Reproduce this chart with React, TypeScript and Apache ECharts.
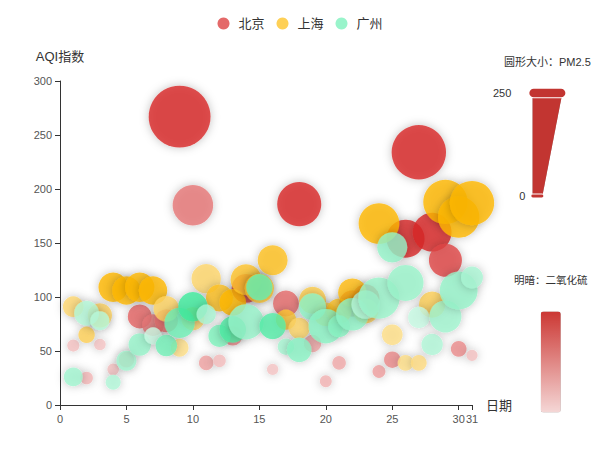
import React, { useEffect, useRef } from "react";
import * as echarts from "echarts";

// [day, AQI, PM2.5, PM10, CO, NO2, SO2, level]
const dataBJ: (number | string)[][] = [
  [1, 55, 9, 56, 0.46, 18, 6, "良"],
  [2, 25, 11, 21, 0.65, 34, 9, "优"],
  [3, 56, 7, 63, 0.3, 14, 5, "良"],
  [4, 33, 7, 29, 0.33, 16, 6, "优"],
  [5, 42, 24, 44, 0.76, 40, 16, "优"],
  [6, 82, 58, 90, 1.77, 68, 33, "良"],
  [7, 74, 49, 77, 1.46, 48, 27, "良"],
  [8, 78, 55, 80, 1.29, 59, 29, "良"],
  [9, 267, 216, 280, 4.8, 108, 64, "重度污染"],
  [10, 185, 127, 216, 2.52, 61, 27, "中度污染"],
  [11, 39, 19, 38, 0.57, 31, 15, "优"],
  [12, 41, 11, 40, 0.43, 21, 7, "优"],
  [13, 64, 38, 74, 1.04, 46, 22, "良"],
  [14, 108, 79, 120, 1.7, 75, 41, "轻度污染"],
  [15, 108, 63, 116, 1.48, 44, 26, "轻度污染"],
  [16, 33, 6, 29, 0.34, 13, 5, "优"],
  [17, 94, 66, 110, 1.54, 62, 31, "良"],
  [18, 186, 142, 192, 3.88, 93, 79, "中度污染"],
  [19, 57, 31, 54, 0.96, 32, 14, "良"],
  [20, 22, 8, 17, 0.48, 23, 10, "优"],
  [21, 39, 15, 36, 0.61, 29, 13, "优"],
  [22, 94, 69, 114, 2.08, 73, 39, "良"],
  [23, 99, 73, 110, 2.43, 76, 48, "良"],
  [24, 31, 12, 30, 0.5, 32, 16, "优"],
  [25, 42, 27, 43, 1, 53, 22, "优"],
  [26, 154, 117, 157, 3.05, 92, 58, "中度污染"],
  [27, 234, 185, 230, 4.09, 123, 69, "重度污染"],
  [28, 160, 120, 186, 2.77, 91, 50, "中度污染"],
  [29, 134, 96, 165, 2.76, 83, 41, "轻度污染"],
  [30, 52, 24, 60, 1.03, 50, 21, "良"],
  [31, 46, 5, 49, 0.28, 10, 6, "优"],
];

const dataSH: (number | string)[][] = [
  [1, 91, 45, 125, 0.82, 34, 23, "良"],
  [2, 65, 27, 78, 0.86, 45, 29, "良"],
  [3, 83, 60, 84, 1.09, 73, 27, "良"],
  [4, 109, 81, 121, 1.28, 68, 51, "轻度污染"],
  [5, 106, 77, 114, 1.07, 55, 51, "轻度污染"],
  [6, 109, 81, 121, 1.28, 68, 51, "轻度污染"],
  [7, 106, 77, 114, 1.07, 55, 51, "轻度污染"],
  [8, 89, 65, 78, 0.86, 51, 26, "良"],
  [9, 53, 33, 47, 0.64, 50, 17, "良"],
  [10, 80, 55, 80, 1.01, 75, 24, "良"],
  [11, 117, 81, 124, 1.03, 45, 24, "轻度污染"],
  [12, 99, 71, 142, 1.1, 62, 42, "良"],
  [13, 95, 69, 130, 1.28, 74, 50, "良"],
  [14, 116, 87, 131, 1.47, 84, 40, "轻度污染"],
  [15, 108, 80, 121, 1.3, 85, 37, "轻度污染"],
  [16, 134, 83, 167, 1.16, 57, 43, "轻度污染"],
  [17, 79, 43, 107, 1.05, 59, 37, "良"],
  [18, 71, 46, 89, 0.86, 64, 25, "良"],
  [19, 97, 71, 113, 1.17, 88, 31, "良"],
  [20, 84, 57, 91, 0.85, 55, 31, "良"],
  [21, 87, 63, 101, 0.9, 56, 41, "良"],
  [22, 104, 77, 119, 1.09, 73, 48, "轻度污染"],
  [23, 87, 62, 100, 1, 72, 28, "良"],
  [24, 168, 128, 172, 1.49, 97, 56, "中度污染"],
  [25, 65, 45, 51, 0.74, 39, 17, "良"],
  [26, 39, 24, 38, 0.61, 47, 17, "优"],
  [27, 39, 24, 39, 0.59, 50, 19, "优"],
  [28, 93, 68, 96, 1.05, 79, 29, "良"],
  [29, 188, 143, 197, 1.66, 99, 51, "中度污染"],
  [30, 174, 131, 174, 1.55, 108, 50, "中度污染"],
  [31, 187, 143, 201, 1.39, 89, 53, "中度污染"],
];

const dataGZ: (number | string)[][] = [
  [1, 26, 37, 27, 1.163, 27, 13, "优"],
  [2, 85, 62, 71, 1.195, 60, 8, "良"],
  [3, 78, 38, 74, 1.363, 37, 7, "良"],
  [4, 21, 21, 36, 0.634, 40, 9, "优"],
  [5, 41, 42, 46, 0.915, 81, 13, "优"],
  [6, 56, 52, 69, 1.067, 92, 16, "良"],
  [7, 64, 30, 28, 0.924, 51, 2, "良"],
  [8, 55, 48, 74, 1.236, 75, 26, "良"],
  [9, 76, 85, 113, 1.237, 114, 27, "良"],
  [10, 91, 81, 104, 1.041, 56, 40, "良"],
  [11, 84, 39, 60, 0.964, 25, 11, "良"],
  [12, 64, 51, 101, 0.862, 58, 23, "良"],
  [13, 70, 69, 120, 1.198, 65, 36, "良"],
  [14, 77, 105, 178, 2.549, 64, 16, "良"],
  [15, 109, 68, 87, 0.996, 74, 29, "轻度污染"],
  [16, 73, 68, 97, 0.905, 51, 34, "良"],
  [17, 54, 27, 47, 0.592, 53, 12, "良"],
  [18, 51, 61, 97, 0.811, 65, 19, "良"],
  [19, 91, 71, 121, 1.374, 43, 18, "良"],
  [20, 73, 102, 182, 2.787, 44, 19, "良"],
  [21, 73, 50, 76, 0.717, 31, 20, "良"],
  [22, 84, 94, 140, 2.238, 68, 18, "良"],
  [23, 93, 77, 104, 1.165, 53, 7, "良"],
  [24, 99, 130, 227, 3.97, 55, 15, "良"],
  [25, 146, 84, 139, 1.094, 40, 17, "轻度污染"],
  [26, 113, 108, 137, 1.481, 48, 15, "轻度污染"],
  [27, 81, 48, 62, 1.619, 26, 3, "良"],
  [28, 56, 48, 68, 1.336, 37, 9, "良"],
  [29, 82, 92, 174, 3.29, 0, 13, "良"],
  [30, 106, 116, 188, 3.628, 101, 16, "轻度污染"],
  [31, 118, 50, 0, 1.383, 76, 11, "轻度污染"],
];

const seriesNames = ["北京", "上海", "广州"];
const seriesColors = ["#dd4444", "#fec42c", "#80F1BE"];

export default function App() {
  const ref = useRef<HTMLDivElement>(null);
  useEffect(() => {
    if (!ref.current) return;
    document.body.style.margin = "0";
    const chart = echarts.init(ref.current, null, { renderer: "svg" });
    const itemStyle = {
      opacity: 0.8,
      shadowBlur: 10,
      shadowOffsetX: 0,
      shadowOffsetY: 0,
      shadowColor: "rgba(0,0,0,0.3)",
    };
    const datas = [dataBJ, dataSH, dataGZ];
    const axisCommon = {
      axisLine: { lineStyle: { color: "#333" } },
      axisTick: { lineStyle: { color: "#333" } },
      axisLabel: { fontSize: 11, color: "#555" },
      nameTextStyle: { fontSize: 13, color: "#333" },
      splitLine: { show: false },
    };
    chart.setOption({
      animation: false,
      color: seriesColors,
      textStyle: { fontFamily: "'Liberation Sans', 'Noto Sans CJK SC', sans-serif" },
      legend: {
        top: 12,
        data: seriesNames,
        itemWidth: 20,
        itemHeight: 12,
        itemGap: 12,
        textStyle: { fontSize: 13, color: "#333" },
      },
      grid: { left: "10%", right: 128, top: "18%", bottom: "10%" },
      xAxis: {
        type: "value",
        name: "日期",
        nameGap: 14,
        max: 31,
        ...axisCommon,
      },
      yAxis: {
        type: "value",
        name: "AQI指数",
        nameLocation: "end",
        nameGap: 18,
        ...axisCommon,
      },
      visualMap: [
        {
          left: 478,
          top: 41,
          dimension: 2,
          min: 0,
          max: 250,
          itemWidth: 30,
          itemHeight: 103,
          calculable: true,
          precision: 0.1,
          text: ["圆形大小：PM2.5"],
          textGap: 26,
          textStyle: { fontSize: 11, color: "#333" },
          inRange: { symbolSize: [10, 70] },
          outOfRange: {
            symbolSize: [10, 70],
            color: ["rgba(255,255,255,0.4)"],
          },
          controller: {
            inRange: { color: ["#c23531"] },
            outOfRange: { color: ["#999"] },
          },
        },
        {
          left: 499,
          bottom: "5%",
          dimension: 6,
          min: 0,
          max: 50,
          itemHeight: 101,
          text: ["明暗：二氧化硫"],
          textGap: 26,
          textStyle: { fontSize: 10.5, color: "#333" },
          inRange: { colorLightness: [0.9, 0.5] },
          outOfRange: { color: ["rgba(255,255,255,0.4)"] },
          controller: {
            inRange: { color: ["#c23531"] },
            outOfRange: { color: ["#999"] },
          },
        },
      ],
      series: seriesNames.map((name, i) => ({
        name,
        type: "scatter",
        itemStyle,
        data: datas[i],
      })),
    });
    return () => chart.dispose();
  }, []);
  return <div ref={ref} style={{ width: 600, height: 450 }} />;
}
